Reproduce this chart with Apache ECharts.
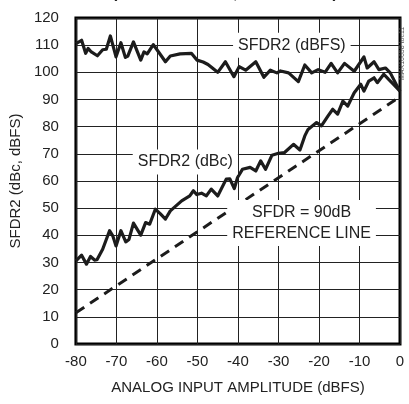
<!DOCTYPE html>
<html><head><meta charset="utf-8">
<script src="https://cdn.jsdelivr.net/npm/echarts@6/dist/echarts.min.js"></script>
<style>html,body{margin:0;padding:0;background:#fff}#c{width:409px;height:404px}</style>
</head><body><div id="c"></div>
<script>
var xTicks = [-80,-70,-60,-50,-40,-30,-20,-10,0];
var yTicks = [0,10,20,30,40,50,60,70,80,90,100,110,120];

var dbfsX = [-80,-78.6,-77.6,-77,-76.2,-74.7,-73.4,-72.5,-71.5,-70.1,-68.9,-67.8,-67.2,-65.8,-64,-63.2,-62.4,-60.9,-59.6,-57.9,-56.7,-54.3,-51.5,-50.1,-48.6,-47.4,-47,-45,-43.1,-41,-39.7,-38.1,-35.6,-33.6,-32,-30.4,-29.5,-27.5,-25.1,-23.5,-21.8,-20.2,-18.5,-17,-15.4,-13.7,-11.3,-9.7,-8.9,-8.1,-6.4,-5.2,-3.6,-2.4,-0.8,0];
var dbfsY = [110.6,111.8,107,108.8,107.5,106.1,108.3,108.5,113.4,105.7,110.9,105.5,106,111.2,104.5,107.5,106.8,110.2,107.5,103.9,106,106.8,107,104.5,103.8,102.9,102.5,100,103.9,98.4,102.1,100.8,103.9,98.2,100.8,99.8,100.5,99.8,96.6,102.7,99.8,101,100,103.3,99.8,103.3,100.4,103.9,105.7,101.6,103.9,101,101.6,99.8,95.2,93];

var dbcX = [-80,-78.6,-77.4,-76.4,-75.4,-74.8,-73.4,-71.7,-70.9,-70.1,-68.9,-67.7,-66.9,-65.8,-65.2,-64,-62.8,-61.8,-60.4,-59.2,-57.9,-56.7,-53.9,-51.9,-51,-50.2,-49,-47.8,-46.6,-45,-42.9,-42,-40.9,-40.1,-38.9,-37,-35.6,-34.4,-33.2,-31.6,-30,-28.5,-26.3,-24.7,-23.5,-22.7,-20.6,-19.4,-17.8,-16.6,-15.4,-14.1,-12.9,-11.3,-9.7,-8.9,-7.7,-6.4,-5.6,-4,-2.8,-1.6,0];
var dbcY = [30.6,32.7,29.4,32.2,30.9,31,34.9,41.7,39.8,36.1,41.7,37.6,38.5,44.5,43,40.1,44.7,44.1,49.6,48,46,49,52.7,54.5,56.4,55,55.5,54.5,57,54.5,60.7,60.8,57.2,61.3,64.3,65,63.7,67.4,64.3,69.5,70.2,70.5,73.5,71.4,76.6,79,81.5,80.3,83.9,86.4,84.6,89.4,87.6,92.5,95.6,93.1,96.8,98,96.2,99.3,97.4,95.6,93.1];

var refX = [-80, 0];
var refY = [11.5, 91];

var labels = [
  {text: 'SFDR2 (dBFS)', x: -26.7, y: 110},
  {text: 'SFDR2 (dBc)', x: -53, y: 67},
  {text: 'SFDR = 90dB\nREFERENCE LINE', x: -24.3, y: 44.5}
];

function pairs(xs, ys){ return xs.map(function(v,i){ return [v, ys[i]]; }); }

var FONT = '"Liberation Sans Narrow", "Arial Narrow", "Liberation Sans", Arial, sans-serif';
var chart = echarts.init(document.getElementById('c'), null, {renderer:'canvas'});
var lineColor = '#1c1c1c';
chart.setOption({
  animation: false,
  backgroundColor: '#fff',
  grid: {left: 71, right: 9, top: 18, bottom: 60, show: true, borderColor: '#000', borderWidth: 3, backgroundColor: 'transparent'},
  xAxis: {
    type: 'value', min: -80, max: 0, interval: 10,
    name: 'ANALOG INPUT AMPLITUDE (dBFS)', nameLocation: 'middle', nameGap: 36,
    nameTextStyle: {fontFamily: FONT, fontSize: 15, color: '#222'},
    axisLine: {show: false}, axisTick: {show: false},
    axisLabel: {fontFamily: FONT, fontSize: 15, color: '#222', margin: 10,
      formatter: function(v){ return xTicks.indexOf(v) >= 0 ? String(v) : ''; }},
    splitLine: {show: true, lineStyle: {color: '#222', width: 1}}
  },
  yAxis: {
    type: 'value', min: 0, max: 120, interval: 10,
    name: 'SFDR2 (dBc, dBFS)', nameLocation: 'middle', nameGap: 45,
    nameTextStyle: {fontFamily: FONT, fontSize: 15, color: '#222'},
    axisLine: {show: false}, axisTick: {show: false},
    axisLabel: {fontFamily: FONT, fontSize: 15, color: '#222', margin: 17,
      formatter: function(v){ return yTicks.indexOf(v) >= 0 ? String(v) : ''; }},
    splitLine: {show: true, lineStyle: {color: '#222', width: 1}}
  },
  series: [
    {type: 'line', data: pairs(refX, refY), symbol: 'none', z: 3,
     lineStyle: {color: lineColor, width: 3, type: [10, 7]}},
    {type: 'line', data: pairs(dbcX, dbcY), symbol: 'none', z: 4,
     lineStyle: {color: lineColor, width: 3.2, join: 'round'}},
    {type: 'line', data: pairs(dbfsX, dbfsY), symbol: 'none', z: 4,
     lineStyle: {color: lineColor, width: 3.2, join: 'round'},
     markPoint: {
       symbol: 'circle', symbolSize: 1, itemStyle: {color: 'rgba(0,0,0,0)'},
       z: 10,
       label: {show: true, position: 'inside', fontFamily: FONT, fontSize: 16, color: '#222',
         backgroundColor: '#fff', padding: [2, 5, 2, 5], lineHeight: 21, align: 'center',
         formatter: function(p){ return p.name; }},
       data: labels.map(function(l){ return {name: l.text, coord: [l.x, l.y]}; })
     }}
  ],
  graphic: [
    {type: 'text', left: 112, top: -14, style: {text: '(fCLK = 125MHz, fIN = 70MHz)', font: 'bold 16px ' + FONT, fill: '#222'}},
    {type: 'text', x: 406, y: 80, rotation: Math.PI/2, style: {text: 'MAX10658 toc11', font: '7px ' + FONT, fill: '#555', textAlign: 'left', textVerticalAlign: 'bottom'}}
  ]
});
</script>
</body></html>
